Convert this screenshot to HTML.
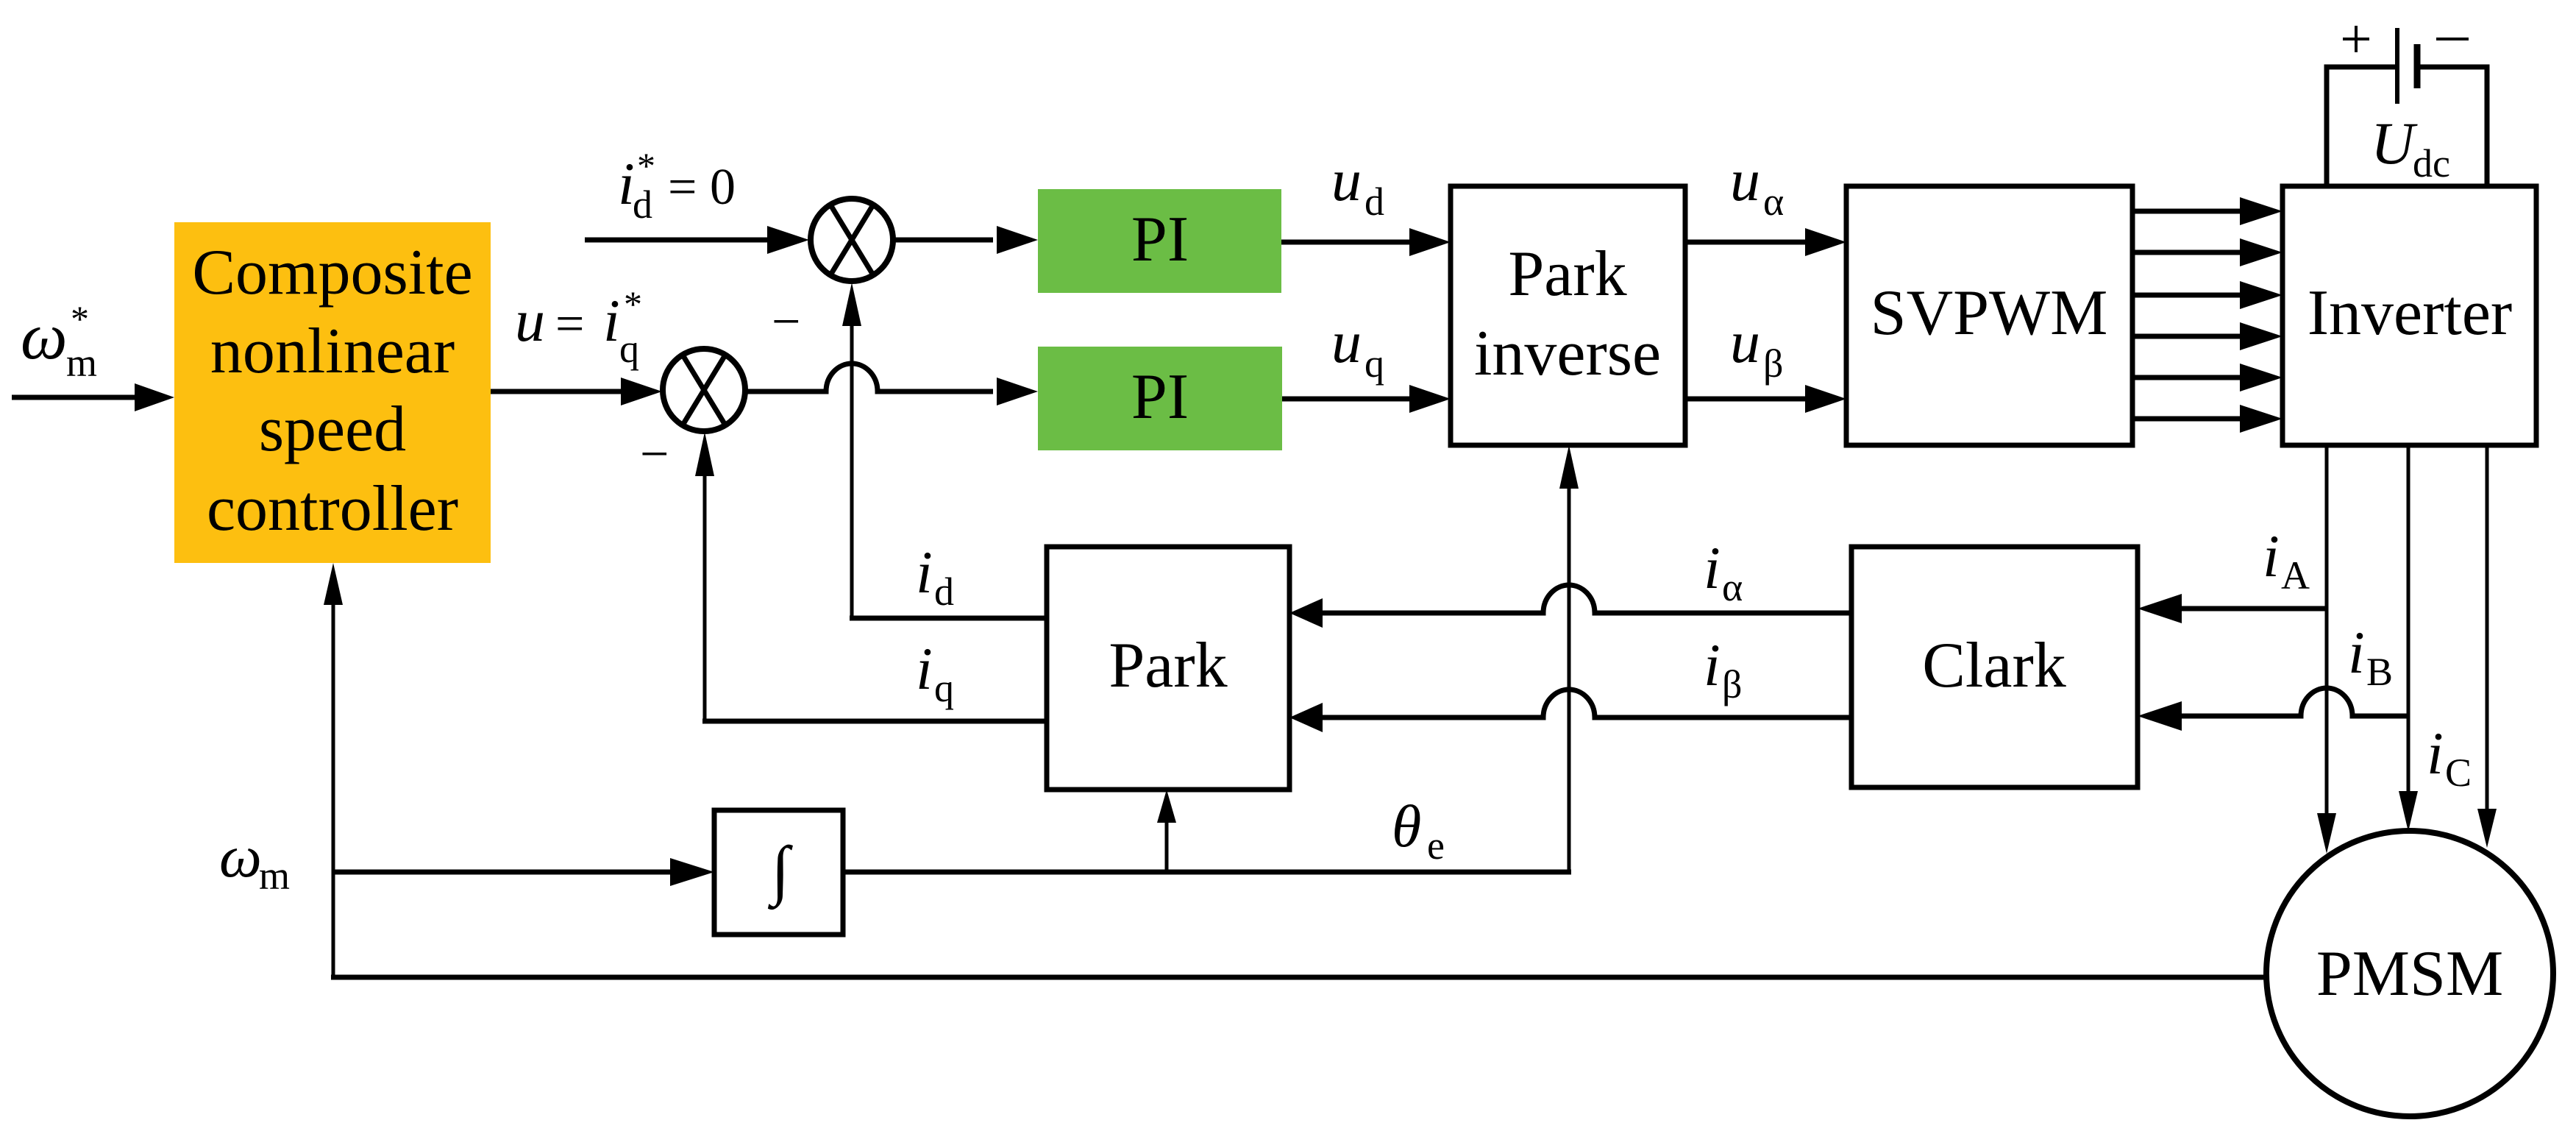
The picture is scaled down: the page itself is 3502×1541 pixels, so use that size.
<!DOCTYPE html>
<html><head><meta charset="utf-8"><style>
html,body{margin:0;padding:0;background:#fff;}
svg{display:block;}
text{font-family:"Liberation Serif","Times New Roman",serif;fill:#000;}
.b{font-size:88px;text-anchor:middle;}
.v{font-size:82px;font-style:italic;}
.s{font-size:54px;font-style:normal;}
</style></head><body>
<svg width="3502" height="1541" viewBox="0 0 3502 1541" xmlns="http://www.w3.org/2000/svg">
<g stroke="#000" fill="none" stroke-width="7">
<rect x="237" y="302" width="430" height="463" fill="#FDBF10" stroke="none"/>
<rect x="1411" y="257" width="331" height="141" fill="#6BBD45" stroke="none"/>
<rect x="1411" y="471" width="332" height="141" fill="#6BBD45" stroke="none"/>
<rect x="1972" y="253" width="319" height="352" fill="#fff"/>
<rect x="2510" y="253" width="389" height="352" fill="#fff"/>
<rect x="3103" y="253" width="345" height="352" fill="#fff"/>
<rect x="1423" y="743" width="330" height="330" fill="#fff"/>
<rect x="2517" y="743" width="389" height="327" fill="#fff"/>
<rect x="971" y="1101" width="175" height="169" fill="#fff"/>
<ellipse cx="3276" cy="1323" rx="195" ry="194" stroke-width="8"/>
<circle cx="957" cy="530" r="56" stroke-width="8"/>
<line x1="929" y1="484" x2="985" y2="576"/><line x1="985" y1="484" x2="929" y2="576"/>
<circle cx="1158" cy="326" r="56" stroke-width="8"/>
<line x1="1130" y1="280" x2="1186" y2="372"/><line x1="1186" y1="280" x2="1130" y2="372"/>
<line x1="16" y1="540" x2="190" y2="540"/>
<line x1="667" y1="532" x2="850" y2="532"/>
<line x1="795" y1="326" x2="1050" y2="326"/>
<line x1="1214" y1="326" x2="1350" y2="326"/>
<path d="M1013 532 H1123 A35 38 0 0 1 1193 532 H1350"/>
<line x1="1158" y1="440" x2="1158" y2="840" stroke-width="5"/>
<line x1="1155" y1="840" x2="1423" y2="840"/>
<line x1="958" y1="640" x2="958" y2="980" stroke-width="5"/>
<line x1="955" y1="980" x2="1423" y2="980"/>
<line x1="1742" y1="329" x2="1920" y2="329"/>
<line x1="1743" y1="542" x2="1920" y2="542"/>
<line x1="2291" y1="329" x2="2455" y2="329"/>
<line x1="2291" y1="542" x2="2455" y2="542"/>
<line x1="2899" y1="287" x2="3050" y2="287"/>
<line x1="2899" y1="343" x2="3050" y2="343"/>
<line x1="2899" y1="401" x2="3050" y2="401"/>
<line x1="2899" y1="457" x2="3050" y2="457"/>
<line x1="2899" y1="513" x2="3050" y2="513"/>
<line x1="2899" y1="569" x2="3050" y2="569"/>
<path d="M3163 253 V91 H3259 M3286 91 H3381 V253" />
<line x1="3259" y1="38" x2="3259" y2="141" stroke-width="6"/>
<line x1="3286" y1="60" x2="3286" y2="120" stroke-width="9"/>
<line x1="3185" y1="53" x2="3221" y2="53" stroke-width="4"/><line x1="3203" y1="35" x2="3203" y2="71" stroke-width="4"/>
<line x1="3312" y1="53" x2="3356" y2="53" stroke-width="4"/>
<line x1="3163" y1="605" x2="3163" y2="1110" stroke-width="5"/>
<line x1="3274" y1="605" x2="3274" y2="1080" stroke-width="5"/>
<line x1="3381" y1="605" x2="3381" y2="1104" stroke-width="5"/>
<line x1="3163" y1="827" x2="2960" y2="827"/>
<path d="M3274 973 H3198 A35 38 0 0 0 3128 973 H2960"/>
<path d="M2517 833 H2168 A35 38 0 0 0 2098 833 H1795"/>
<path d="M2517 975 H2168 A35 38 0 0 0 2098 975 H1795"/>
<line x1="453" y1="1185" x2="915" y2="1185"/>
<line x1="1146" y1="1185" x2="2136" y2="1185"/>
<line x1="2133" y1="1188" x2="2133" y2="660" stroke-width="5"/>
<line x1="1586" y1="1185" x2="1586" y2="1115" stroke-width="5"/>
<line x1="453" y1="820" x2="453" y2="1331" stroke-width="5"/>
<line x1="450" y1="1328" x2="3082" y2="1328"/>
</g>
<g fill="#000">
<polygon points="237,540 183,521 183,559"/>
<polygon points="900,532 844,513 844,551"/>
<polygon points="1100,326 1043,307 1043,345"/>
<polygon points="1411,326 1355,307 1355,345"/>
<polygon points="1411,532 1355,513 1355,551"/>
<polygon points="1972,329 1916,310 1916,348"/>
<polygon points="1972,542 1916,523 1916,561"/>
<polygon points="2510,329 2454,310 2454,348"/>
<polygon points="2510,542 2454,523 2454,561"/>
<polygon points="3103,287 3045,268 3045,306"/>
<polygon points="3103,343 3045,324 3045,362"/>
<polygon points="3103,401 3045,382 3045,420"/>
<polygon points="3103,457 3045,438 3045,476"/>
<polygon points="3103,513 3045,494 3045,532"/>
<polygon points="3103,569 3045,550 3045,588"/>
<polygon points="1158,384 1145,443 1171,443"/>
<polygon points="958,587 945,647 971,647"/>
<polygon points="453,765 440,822 466,822"/>
<polygon points="2133,605 2120,664 2146,664"/>
<polygon points="1586,1073 1573,1118 1599,1118"/>
<polygon points="971,1185 911,1166 911,1204"/>
<polygon points="1753,833 1798,813 1798,853"/>
<polygon points="1753,975 1798,955 1798,995"/>
<polygon points="2906,827 2966,807 2966,847"/>
<polygon points="2906,973 2966,953 2966,993"/>
<polygon points="3163,1160 3150,1105 3176,1105"/>
<polygon points="3274,1130 3261,1075 3287,1075"/>
<polygon points="3381,1152 3368,1099 3394,1099"/>
</g>
<text class="b" x="452" y="399">Composite</text>
<text class="b" x="452" y="506">nonlinear</text>
<text class="b" x="452" y="612">speed</text>
<text class="b" x="452" y="720">controller</text>
<text class="b" x="1577" y="354">PI</text>
<text class="b" x="1577" y="568">PI</text>
<text class="b" x="2131" y="401">Park</text>
<text class="b" x="2131" y="509">inverse</text>
<text class="b" x="2704" y="454">SVPWM</text>
<text class="b" x="3276" y="454">Inverter</text>
<text class="b" x="1588" y="933">Park</text>
<text class="b" x="2711" y="933">Clark</text>
<text class="b" x="3276" y="1352">PMSM</text>
<text x="1061" y="1212" style="font-size:90px;font-style:italic;text-anchor:middle">∫</text>
<text class="v" x="28" y="487" style="font-size:90px">ω</text><text class="s" x="90" y="511">m</text>
<text x="96" y="450" style="font-size:50px">*</text>
<text class="v" x="700" y="463">u</text><text x="755" y="463" style="font-size:70px">=</text>
<text class="v" x="820" y="463">i</text><text class="s" x="842" y="492">q</text><text x="848" y="430" style="font-size:50px">*</text>
<text class="v" x="840" y="277">i</text><text class="s" x="860" y="296">d</text><text x="866" y="242" style="font-size:50px">*</text>
<text x="908" y="277" style="font-size:70px">= 0</text>
<text x="1049" y="460" style="font-size:70px">−</text>
<text x="870" y="640" style="font-size:70px">−</text>
<text class="v" x="1810" y="272">u</text><text class="s" x="1855" y="292">d</text>
<text class="v" x="1810" y="492">u</text><text class="s" x="1855" y="512">q</text>
<text class="v" x="2352" y="272">u</text><text class="s" x="2397" y="292">α</text>
<text class="v" x="2352" y="492">u</text><text class="s" x="2397" y="512">β</text>
<text class="v" x="3223" y="222">U</text><text class="s" x="3280" y="240">dc</text>
<text class="v" x="1245" y="805">i</text><text class="s" x="1270" y="822">d</text>
<text class="v" x="1245" y="936">i</text><text class="s" x="1270" y="953">q</text>
<text class="v" x="2316" y="799">i</text><text class="s" x="2341" y="816">α</text>
<text class="v" x="2316" y="931">i</text><text class="s" x="2341" y="948">β</text>
<text class="v" x="3076" y="783">i</text><text class="s" x="3101" y="800">A</text>
<text class="v" x="3192" y="914">i</text><text class="s" x="3217" y="931">B</text>
<text class="v" x="3299" y="1051">i</text><text class="s" x="3324" y="1068">C</text>
<text class="v" x="1892" y="1150">θ</text><text class="s" x="1940" y="1167">e</text>
<text class="v" x="298" y="1191">ω</text><text class="s" x="352" y="1208">m</text>
</svg>
</body></html>
